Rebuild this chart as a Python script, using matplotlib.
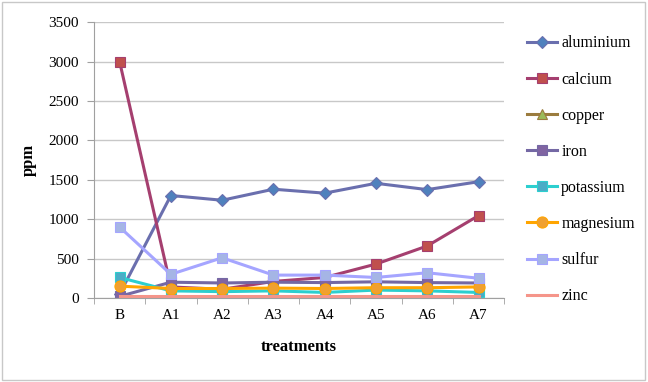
import numpy as np
import matplotlib.pyplot as plt
from matplotlib.patches import Rectangle

treatments = ['B', 'A1', 'A2', 'A3', 'A4', 'A5', 'A6', 'A7']

aluminium = [50, 1300, 1240, 1380, 1330, 1455, 1375, 1475]
calcium = [3000, 140, 110, 210, 260, 430, 660, 1045]
copper = [5, 5, 5, 5, 5, 5, 5, 5]
iron = [20, 200, 190, 200, 195, 205, 195, 190]
potassium = [260, 90, 80, 90, 70, 100, 90, 70]
magnesium = [150, 120, 120, 125, 120, 130, 130, 140]
sulfur = [900, 300, 510, 290, 290, 260, 320, 250]
zinc = [20, 20, 20, 20, 20, 20, 20, 20]

series = [
    ('aluminium', aluminium, '#6a6fae', '#4f81bd', 'D', 6),
    ('calcium', calcium, '#a53f6f', '#c0504d', 's', 7),
    ('copper', copper, '#9b7c3e', '#9bbb59', '^', 7),
    ('iron', iron, '#7468a4', '#8064a2', 's', 7),
    ('potassium', potassium, '#2ccfcf', '#4bacc6', 's', 7),
    ('magnesium', magnesium, '#ffa500', '#f0a030', 'o', 8),
    ('sulfur', sulfur, '#a5a5ff', '#a5b5e5', 's', 7),
    ('zinc', zinc, '#f5958a', '#f5958a', None, 0),
]

plt.rcParams['font.family'] = ['Liberation Serif', 'DejaVu Serif']

fig = plt.figure(figsize=(6.48, 3.82), dpi=100)
ax = fig.add_axes([0.145, 0.22, 0.633, 0.722])

x = np.arange(len(treatments))
for name, vals, lc, mc, mk, ms in series:
    ax.plot(x, vals, color=lc, lw=2.2, marker=mk, markersize=ms,
            markerfacecolor=mc, markeredgecolor=lc,
            markeredgewidth=0.8, label=name)

ax.set_xlim(-0.5, 7.5)
ax.set_ylim(0, 3500)
ax.set_yticks(np.arange(0, 3501, 500))
ax.set_xticks(x)
ax.set_xticklabels(treatments)
ax.set_xticks(np.arange(-0.5, 7.6, 1), minor=True)
ax.tick_params(axis='x', which='major', length=0, pad=8, labelsize=11)
ax.tick_params(axis='x', which='minor', length=4, color='#a0a0a0', direction='out')
ax.tick_params(axis='y', length=5, color='#a0a0a0', labelsize=11, pad=6)
ax.grid(axis='y', color='#c8c8c8', lw=1)
ax.set_axisbelow(True)
for s in ['top', 'right']:
    ax.spines[s].set_visible(False)
for s in ['left', 'bottom']:
    ax.spines[s].set_color('#a0a0a0')

ax.set_ylabel('ppm', fontsize=12, fontweight='bold', labelpad=8)
ax.set_xlabel('treatments', fontsize=12, fontweight='bold', labelpad=12)

leg = ax.legend(loc='upper left', bbox_to_anchor=(1.04, 0.975), frameon=False,
                fontsize=11.5, labelspacing=1.26, handlelength=1.9,
                handletextpad=0.25, borderaxespad=0)

fig.patches.append(Rectangle((0.003, 0.005), 0.992, 0.99, transform=fig.transFigure,
                             fill=False, edgecolor='#c8c8c8', lw=1))

fig.savefig('out.png', dpi=100)
